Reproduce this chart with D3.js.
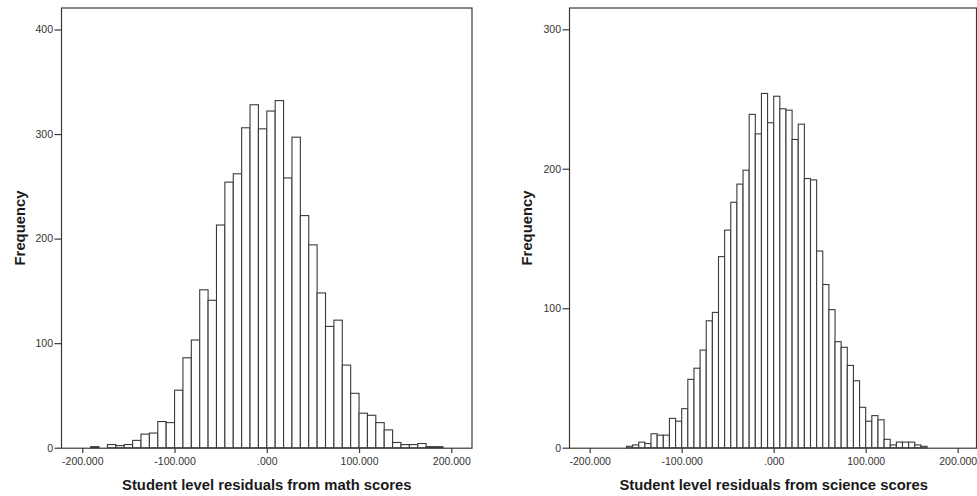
<!DOCTYPE html>
<html lang='en'>
  <meta charset='utf-8'>
  <style>
    body{
      margin: 0;
      background: #fff;
    }
    svg{
      display: block;
      font-family: Arial, 'Liberation Sans', sans-serif;
    }
    .tick-label{
      font-size: 10.5px;
      fill: #333;
    }
    .axis-title{
      font-size: 14.8px;
      font-weight: bold;
      fill: #1a1a1a;
    }
  </style>
  <body>
    <svg id='chart' width='977' height='496'></svg>

    <script src='https://d3js.org/d3.v7.min.js'></script>
    <script>
      // math residuals: bin width 100/11, first bin starts at -21 * width
      const mathFirstBin = -21
      const mathBinWidth = 100 / 11
      const mathCounts = [1, 0, 3, 2, 3, 7, 13, 14, 25, 24, 55, 86, 103, 151, 141, 213, 254, 262, 306, 328, 305,
                          322, 332, 258, 297, 222, 194, 148, 116, 122, 79, 52, 33, 31, 24, 17, 5, 3, 3, 4, 1, 1]
      const mathYTicks = [0, 100, 200, 300, 400]

      // science residuals: bin width 100/15, first bin starts at -24 * width
      const sciFirstBin = -24
      const sciBinWidth = 100 / 15
      const sciCounts = [1, 2, 4, 3, 10, 9, 9, 21, 19, 28, 49, 57, 70, 91, 97, 137, 156, 176, 189, 199, 239, 225, 254, 233,
                         252, 243, 242, 221, 232, 193, 192, 141, 117, 99, 76, 72, 59, 48, 29, 19, 23, 20, 6, 2, 4, 4, 4, 2, 1]
      const sciYTicks = [0, 100, 200, 300]

      const xTicks = [-200, 100 * -1, 0, 100, 200]
      const xTickLabels = ['-200.000', '-100.000', '.000', '100.000', '200.000']

      const svg = d3.select('#chart')

      const drawPanel = (opt) => {
        const g = svg.append('g')

        const x = d3.scaleLinear().domain([-200, 200]).range(opt.xRange)
        const y = d3.scaleLinear().domain([0, opt.yTop]).range([447.7, opt.yTopPx])

        const bins = opt.counts.map((c, i) => {
          const k = opt.firstBin + i
          return {x0: k * opt.binWidth, x1: (k + 1) * opt.binWidth, count: c}
        }).filter(d => d.count > 0)

        // frame
        g.append('rect')
          .attr('x', opt.frame[0] + 0.5)
          .attr('y', opt.frame[2] + 0.5)
          .attr('width', opt.frame[1] - opt.frame[0])
          .attr('height', 447.7 - opt.frame[2])
          .attr('fill', 'none')
          .attr('stroke', '#3a3a3a')
          .attr('stroke-width', 1.2)

        // bars
        g.append('g')
          .selectAll('rect')
          .data(bins)
          .enter().append('rect')
          .attr('x', d => x(d.x0))
          .attr('y', d => y(d.count))
          .attr('width', d => x(d.x1) - x(d.x0))
          .attr('height', d => y(0) - y(d.count))
          .attr('fill', '#fff')
          .attr('stroke', '#3a3a3a')
          .attr('stroke-width', 1.1)

        // y axis
        const yAxis = d3.axisLeft(y).tickValues(opt.yTicks).tickSize(7).tickFormat(d3.format('d'))
        const ya = g.append('g')
          .attr('transform', `translate(${opt.frame[0] + 0.5},0)`)
          .call(yAxis)
        ya.select('.domain').remove()
        ya.selectAll('line').attr('stroke', '#3a3a3a').attr('stroke-width', 1.2)
        ya.selectAll('text').attr('class', 'tick-label').attr('font-family', null).attr('font-size', null).attr('x', -8.5)

        // x axis
        const xAxis = d3.axisBottom(x).tickValues(xTicks).tickSize(5).tickFormat((d, i) => xTickLabels[i])
        const xa = g.append('g')
          .attr('transform', 'translate(0,448)')
          .call(xAxis)
        xa.select('.domain').remove()
        xa.selectAll('line').attr('stroke', '#3a3a3a').attr('stroke-width', 1.2)
        xa.selectAll('text').attr('class', 'tick-label').attr('font-family', null).attr('font-size', null).attr('y', 9.5)

        // titles
        g.append('text')
          .attr('class', 'axis-title')
          .attr('x', x(0))
          .attr('y', 490)
          .attr('text-anchor', 'middle')
          .text(opt.xTitle)

        g.append('text')
          .attr('class', 'axis-title')
          .attr('transform', `translate(${opt.yTitleX},228) rotate(-90)`)
          .attr('text-anchor', 'middle')
          .text('Frequency')
      }

      drawPanel({
        counts: mathCounts, firstBin: mathFirstBin, binWidth: mathBinWidth,
        yTicks: mathYTicks, yTop: 400, yTopPx: 29.5,
        xRange: [82.3, 451.3], frame: [61, 471.5, 7.5],
        xTitle: 'Student level residuals from math scores', yTitleX: 24.5
      })

      drawPanel({
        counts: sciCounts, firstBin: sciFirstBin, binWidth: sciBinWidth,
        yTicks: sciYTicks, yTop: 300, yTopPx: 29.3,
        xRange: [589.7, 957.7], frame: [569, 976, 7.5],
        xTitle: 'Student level residuals from science scores', yTitleX: 532
      })
    </script>
</body>
</html>
